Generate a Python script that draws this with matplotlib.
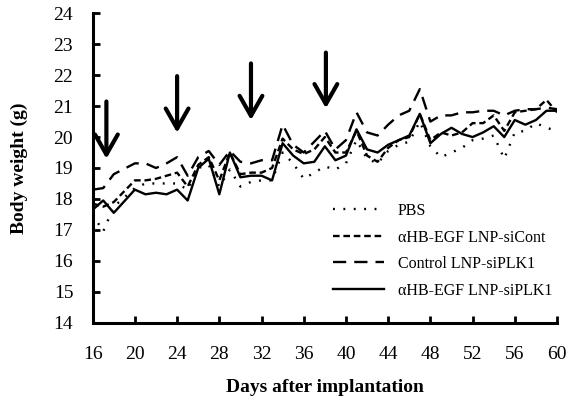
import matplotlib
matplotlib.use("Agg")
import matplotlib.pyplot as plt

plt.rcParams['font.family'] = ['Liberation Serif', 'DejaVu Serif']

days = [16, 17, 18, 20, 21, 22, 23, 24, 25, 26, 27, 28, 29, 30, 31, 32, 33, 34, 35, 36, 37, 38,
        39, 40, 41, 42, 43, 44, 45, 46, 47, 48, 49, 50, 51, 52, 53, 54, 55, 56, 57, 58, 59, 60]

pbs = [17.5, 16.95, 17.75, 18.35, 18.5, 18.5, 18.5, 18.5, 18.3, 19.0, 19.1, 18.4, 18.95, 18.4,
       18.55, 18.6, 18.6, 19.5, 19.15, 18.65, 18.85, 19.05, 18.95, 19.15, 19.9, 19.3, 19.15, 19.55,
       19.75, 19.85, 20.5, 19.7, 19.35, 19.5, 19.65, 19.9, 19.95, 20.05, 19.3, 20.15, 20.2, 20.45,
       20.3, 20.2]
si_cont = [17.85, 17.75, 17.9, 18.6, 18.6, 18.65, 18.75, 18.85, 18.4, 19.1, 19.35, 18.6, 19.5, 18.8,
           18.85, 18.85, 19.0, 19.95, 19.6, 19.45, 19.6, 20.0, 19.5, 19.5, 20.2, 19.4, 19.2, 19.65,
           19.9, 20.0, 20.75, 19.9, 20.15, 20.05, 20.15, 20.45, 20.45, 20.7, 20.2, 20.8, 20.85, 20.9,
           21.2, 20.8]
control_plk1 = [18.3, 18.35, 18.8, 19.15, 19.15, 19.0, 19.15, 19.35, 18.75, 19.35, 19.55, 19.1, 19.55,
                19.2, 19.15, 19.25, 19.25, 20.4, 19.75, 19.5, 19.85, 20.2, 19.6, 19.9, 20.8, 20.15,
                20.05, 20.4, 20.7, 20.85, 21.55, 20.5, 20.7, 20.7, 20.8, 20.8, 20.85, 20.85, 20.7,
                20.85, 20.9, 20.9, 20.95, 20.9]
egf_plk1 = [17.65, 17.95, 17.55, 18.3, 18.15, 18.2, 18.15, 18.3, 17.95, 19.0, 19.3, 18.15, 19.5, 18.7,
            18.75, 18.75, 18.6, 19.8, 19.4, 19.15, 19.2, 19.7, 19.25, 19.4, 20.25, 19.6, 19.5, 19.75,
            19.9, 20.05, 20.75, 19.8, 20.1, 20.3, 20.1, 20.0, 20.15, 20.35, 20.0, 20.55, 20.4, 20.55,
            20.85, 20.85]

labels = ['PBS', 'αHB-EGF LNP-siCont', 'Control LNP-siPLK1', 'αHB-EGF LNP-siPLK1']

# injection days (arrows)
arrow_days = [17.3, 24, 31, 38.1]
arrow_top = [21.15, 21.97, 22.38, 22.73]
arrow_tip = [19.3, 20.14, 20.55, 20.93]

fig = plt.figure(figsize=(5.71, 4.03), dpi=100)
ax = fig.add_axes([0.1623, 0.1993, 0.8132, 0.7677])

lw = 1.7
ax.plot(days, pbs, color='black', lw=lw, linestyle=(0, (0.8, 3.6)), label=labels[0])
ax.plot(days, si_cont, color='black', lw=lw, linestyle=(0, (2.8, 1.6)), label=labels[1])
ax.plot(days, control_plk1, color='black', lw=lw, linestyle=(0, (5.6, 3.4)), label=labels[2])
ax.plot(days, egf_plk1, color='black', lw=lw, label=labels[3])

for d, t0, t1 in zip(arrow_days, arrow_top, arrow_tip):
    ax.annotate('', xy=(d, t1), xytext=(d, t0),
                arrowprops=dict(arrowstyle='->,head_length=0.72,head_width=0.41',
                                mutation_scale=20, lw=3, color='black',
                                shrinkA=0, shrinkB=0))

ax.set_xlim(16, 60)
ax.set_ylim(14, 24)
ax.set_xticks(range(16, 61, 4))
ax.set_yticks(range(14, 25))
for s in ['top', 'right']:
    ax.spines[s].set_visible(False)
for s in ['left', 'bottom']:
    ax.spines[s].set_linewidth(2.2)
ax.tick_params(direction='in', length=5, width=2, labelsize=14)
ax.tick_params(axis='y', pad=14)
ax.tick_params(axis='x', pad=17)

ax.set_xlabel('Days after implantation', fontsize=14, fontweight='bold', labelpad=11)
ax.set_ylabel('Body weight (g)', fontsize=14, fontweight='bold', labelpad=18)

ax.legend(loc='upper left', bbox_to_anchor=(333 / 571, 1 - 203 / 403),
          bbox_transform=fig.transFigure, frameon=False, fontsize=11.5,
          handlelength=3.2, handletextpad=0.85, labelspacing=0.66, borderpad=0,
          borderaxespad=0)

fig.savefig('out.png', dpi=100)
